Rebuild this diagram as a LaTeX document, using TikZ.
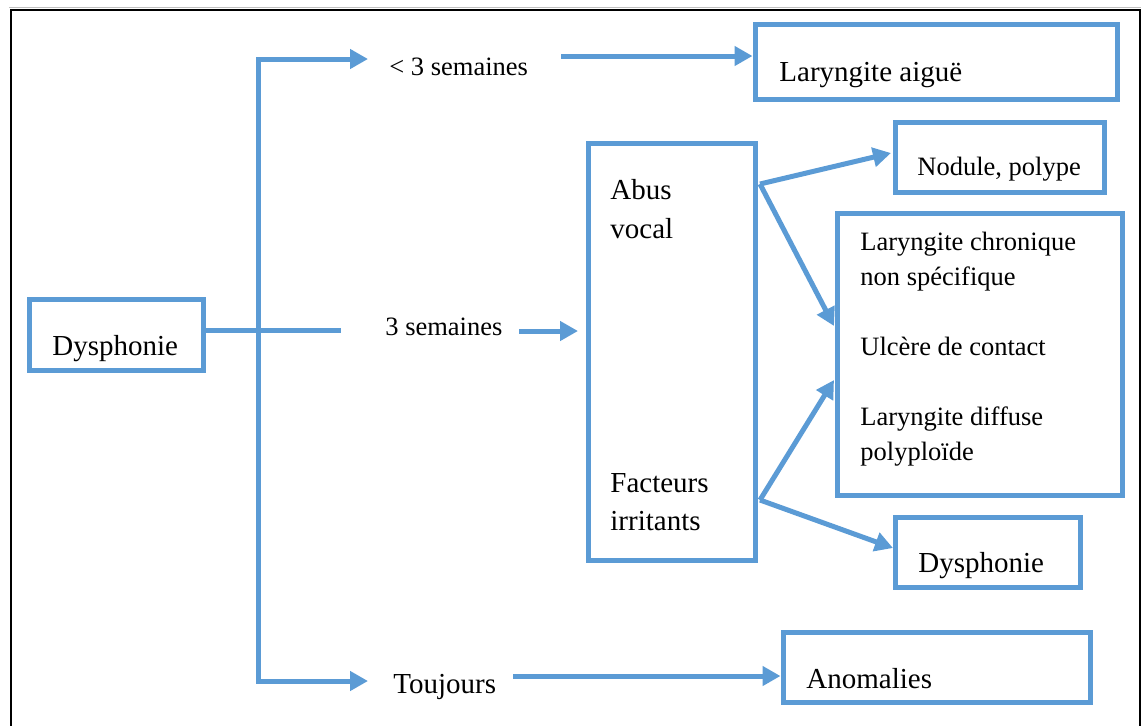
\documentclass[tikz,border=0pt]{standalone}
\usepackage{fontspec}
\setmainfont{Liberation Serif}
\newfontfamily\tms{Liberation Serif}
\usetikzlibrary{arrows.meta}
\definecolor{wblue}{HTML}{5B9BD5}
\tikzset{
  box/.style={draw=wblue, line width=2.5pt, rectangle, inner sep=0pt, fill=white},
  lbl/.style={anchor=base west, inner sep=0pt, font=\tms\fontsize{13.25}{15}\selectfont},
  lblb/.style={anchor=base west, inner sep=0pt, font=\tms\fontsize{14.5}{16}\selectfont},
  conn/.style={draw=wblue, line width=2.5pt},
  arr/.style={conn, -{Triangle[length=9pt,width=9.5pt]}},
}
\begin{document}
\begin{tikzpicture}[x=0.5pt,y=-0.5pt]
\useasboundingbox (0,0) rectangle (1141,725);
% outer frame
\draw[gray!50, line width=0.5pt] (9,7) -- (1141,7);
\draw[black, line width=1.3pt] (11,730) -- (11,10) -- (1140,10) -- (1140,730);

% boxes
\node[box, minimum width=87pt, minimum height=35.5pt] (d1) at (116,334.5) {};
\node[box, minimum width=181pt, minimum height=37.5pt] (la) at (936,61.5) {};
\node[box, minimum width=83.5pt, minimum height=208.5pt] (ab) at (671.5,351.5) {};
\node[box, minimum width=104.5pt, minimum height=35pt] (np) at (999.5,157) {};
\node[box, minimum width=142.5pt, minimum height=141pt] (big) at (979.5,354) {};
\node[box, minimum width=92.5pt, minimum height=35pt] (d2) at (987.5,552) {};
\node[box, minimum width=153.5pt, minimum height=35pt] (an) at (936.5,667) {};

% texts
\node[lblb] (td1) at (52,355) {Dysphonie};
\node[lbl] (t3a) at (389,75) {< 3 semaines};
\node[lblb] (tla) at (779,81) {Laryngite aiguë};
\node[lblb] (tabus) at (610,199) {Abus};
\node[lblb] (tvocal) at (610,238) {vocal};
\node[lbl] (t3b) at (385,335) {3 semaines};
\node[lbl] (tnp) at (917,175) {Nodule, polype};
\node[lbl] (tlc1) at (860,250) {Laryngite chronique};
\node[lbl] (tlc2) at (860,285) {non spécifique};
\node[lbl] (tuc) at (860,355) {Ulcère de contact};
\node[lbl] (tld1) at (860,425) {Laryngite diffuse};
\node[lbl] (tld2) at (860,460) {polyploïde};
\node[lblb] (tfa) at (610,492) {Facteurs};
\node[lblb] (tir) at (610,530) {irritants};
\node[lblb] (td2) at (918,572) {Dysphonie};
\node[lblb] (ttj) at (393,693) {Toujours};
\node[lblb] (tan) at (806,688) {Anomalies};

% coordinates
\coordinate (midend) at (341,330);
\coordinate (trtop) at (258,59);
\coordinate (trbot) at (258,681);
\coordinate (tipA) at (368,59);
\coordinate (tipB) at (368,681);
\coordinate (s1) at (561,56);
\coordinate (s2) at (519,331);
\coordinate (tip2) at (578,331);
\coordinate (s3) at (513,676);
\coordinate (abo) at (760,184);
\coordinate (fao) at (760,500);
\coordinate (tipNP) at (891,153);
\coordinate (tipB1) at (834,326);
\coordinate (tipB2) at (834,380);
\coordinate (tipD2) at (893,548);

% connectors
\draw[conn] (d1.east |- midend) -- (midend);
\draw[conn, line join=miter, {Triangle[length=9pt,width=9.5pt]}-{Triangle[length=9pt,width=9.5pt]}] (tipA) -- (trtop) -- (trbot) -- (tipB);
\draw[arr] (s1) -- (la.west |- s1);
\draw[arr] (s2) -- (tip2);
\draw[arr] (s3) -- (an.west |- s3);
\draw[arr] (abo) -- (tipNP);
\draw[arr] (abo) -- (tipB1);
\draw[arr] (fao) -- (tipB2);
\draw[arr] (fao) -- (tipD2);
\end{tikzpicture}
\end{document}
